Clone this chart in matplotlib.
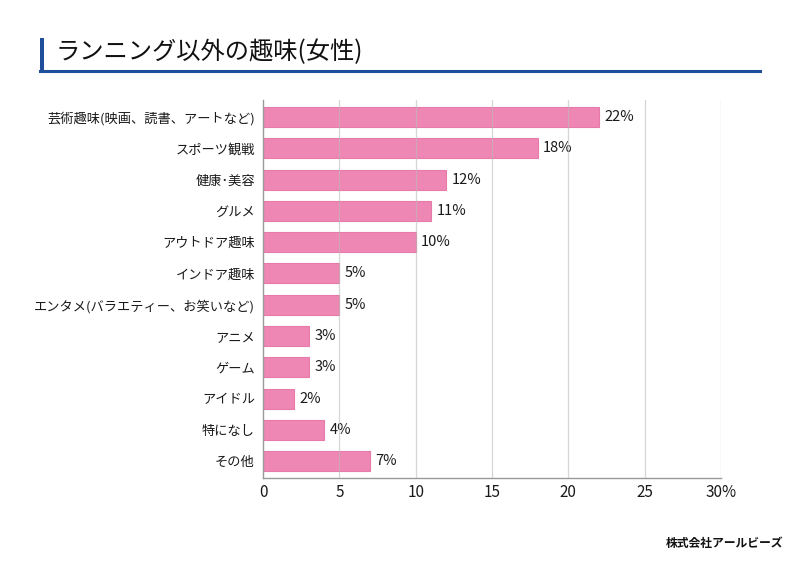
import matplotlib
matplotlib.use("Agg")
import matplotlib.pyplot as plt
from matplotlib.lines import Line2D
from matplotlib.patches import Rectangle

plt.rcParams["font.family"] = ["Noto Sans CJK JP", "DejaVu Sans"]

TITLE = "ランニング以外の趣味(女性)"
CATEGORIES = [
    "芸術趣味(映画、読書、アートなど)",
    "スポーツ観戦",
    "健康･美容",
    "グルメ",
    "アウトドア趣味",
    "インドア趣味",
    "エンタメ(バラエティー、お笑いなど)",
    "アニメ",
    "ゲーム",
    "アイドル",
    "特になし",
    "その他",
]
VALUES = [22, 18, 12, 11, 10, 5, 5, 3, 3, 2, 4, 7]
XTICKS = [0, 5, 10, 15, 20, 25, 30]
XTICK_LABELS = ["0", "5", "10", "15", "20", "25", "30%"]

BAR = "#EE87B3"
EDGE = "#E77AA8"
BLUE = "#1F4E9A"

fig = plt.figure(figsize=(8.0, 5.66), dpi=100)
ax = fig.add_axes([0.329, 0.1555, 0.572, 0.6675])

y = list(range(len(CATEGORIES)))
ax.barh(y, VALUES, height=0.64, color=BAR, edgecolor=EDGE, lw=0.8, zorder=2)
for yi, v in zip(y, VALUES):
    ax.text(v + 0.35, yi, f"{v}%", va="center", ha="left", fontsize=10.5,
            color="#1A1A1A")

ax.set_xlim(0, 30)
ax.set_ylim(len(CATEGORIES) - 0.46, -0.54)
ax.set_xticks(XTICKS)
ax.set_xticklabels(XTICK_LABELS, fontsize=11, color="#1A1A1A")
ax.set_yticks(y)
ax.set_yticklabels(CATEGORIES, fontsize=9.5, color="#1A1A1A")
ax.tick_params(axis="y", length=0, pad=6)
ax.tick_params(axis="x", length=0, pad=4)

# grid drawn over the bars, faint
for xv in XTICKS[1:]:
    ax.axvline(xv, color="#BBBBBB", lw=0.9, alpha=0.6, zorder=3)

for s in ["top", "right"]:
    ax.spines[s].set_visible(False)
ax.spines["left"].set_color("#999999")
ax.spines["bottom"].set_color("#999999")
ax.spines["left"].set_linewidth(1.0)
ax.spines["bottom"].set_linewidth(1.0)

# title block with blue accent
fig.text(56 / 800, 1 - 52 / 566, TITLE, fontsize=17.5, va="center", ha="left",
         color="#111111")
fig.add_artist(Rectangle((40 / 800, 1 - 72 / 566), 4 / 800, 34 / 566,
                         transform=fig.transFigure, color=BLUE, lw=0))
fig.add_artist(Line2D([40 / 800, 760 / 800], [1 - 71 / 566] * 2,
                      transform=fig.transFigure, color=BLUE, lw=2.2))

fig.text(783 / 800, 1 - 543 / 566, "株式会社アールビーズ", fontsize=8.5,
         ha="right", va="center", fontweight="bold", style="italic",
         color="#111111")

fig.savefig("out.png", dpi=100)
